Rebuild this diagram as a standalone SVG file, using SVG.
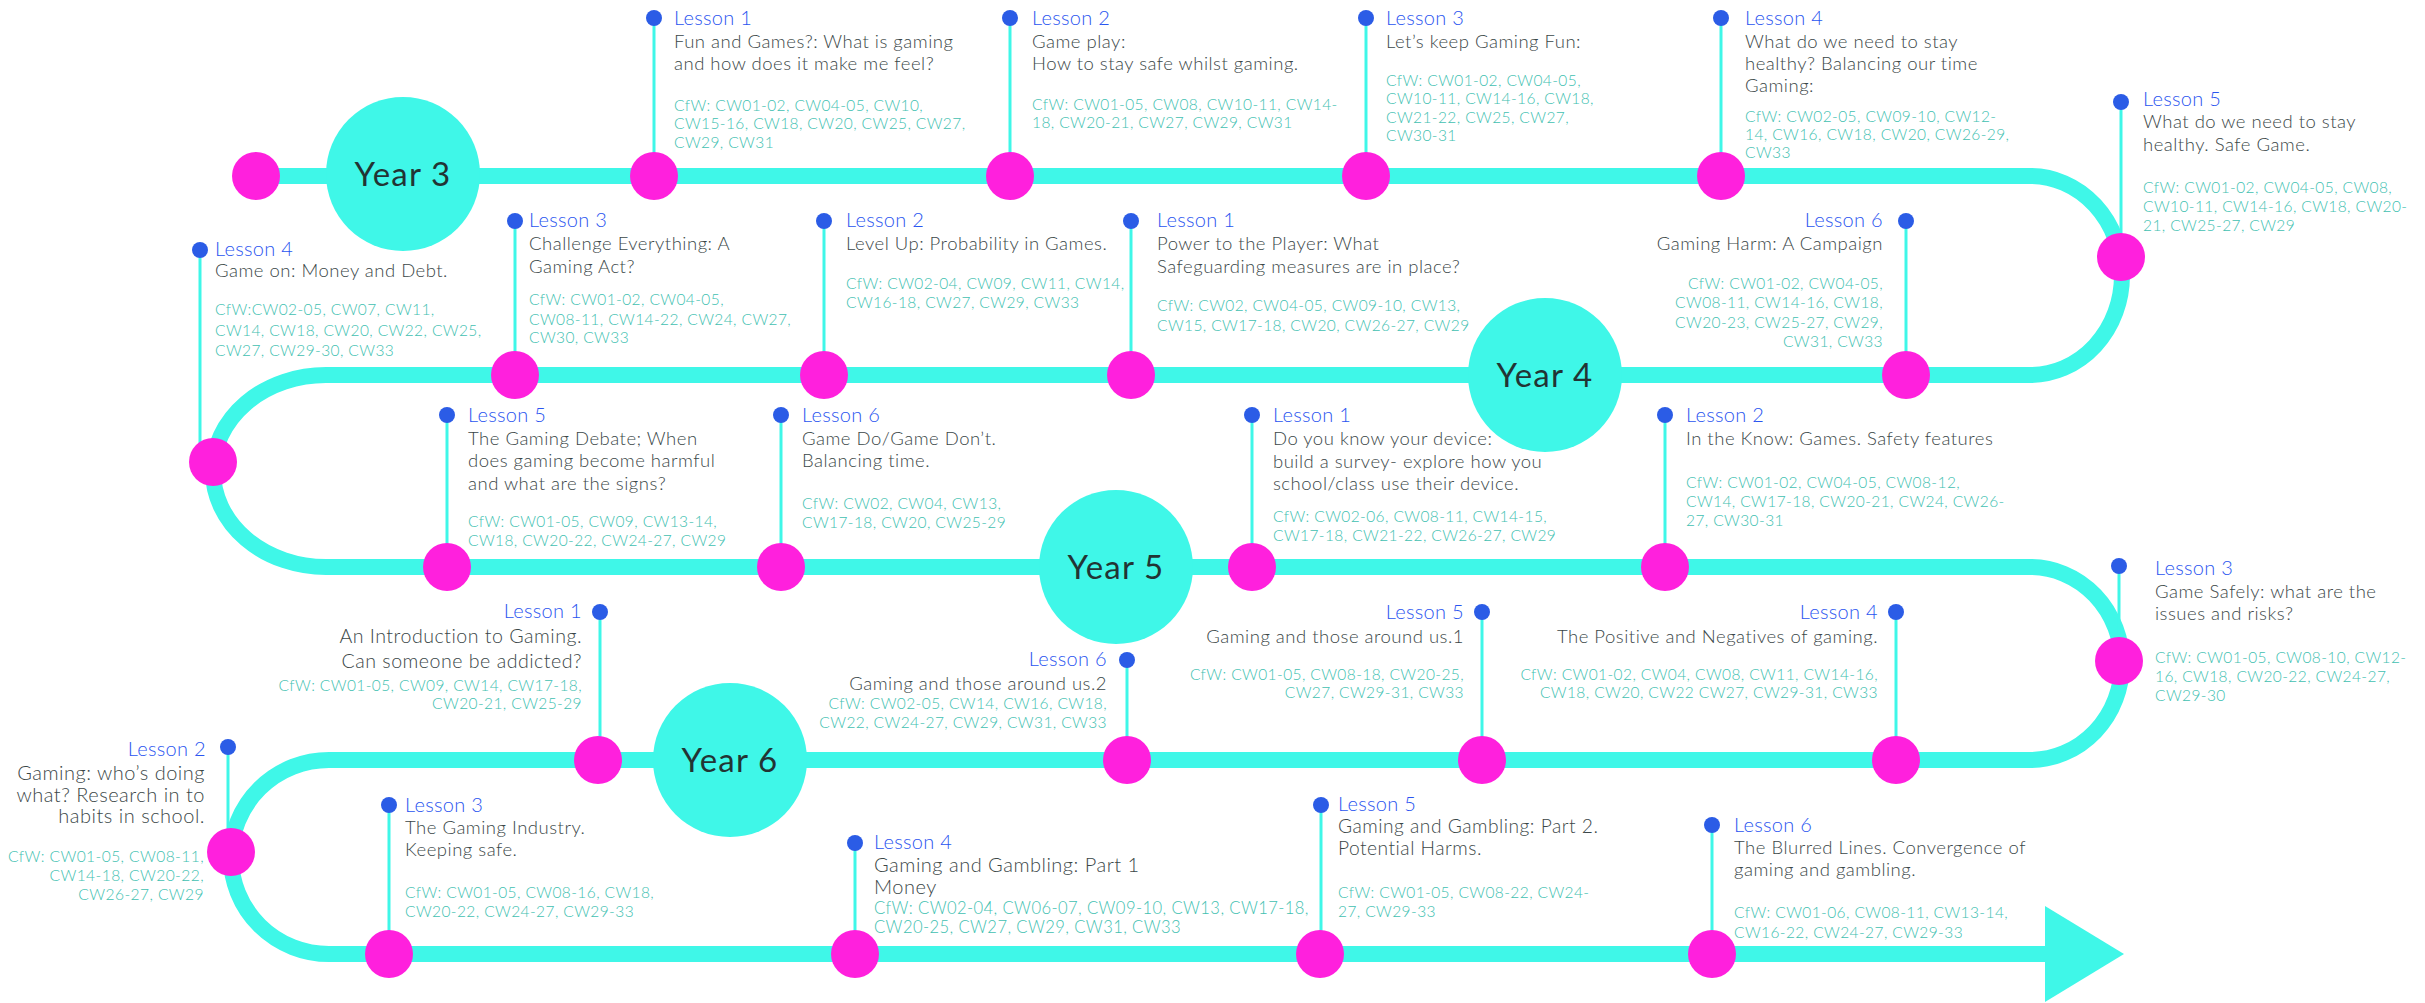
<svg xmlns="http://www.w3.org/2000/svg" width="2425" height="1003" viewBox="0 0 2425 1003">
<style>
  text { font-family: Lato, "Liberation Sans", sans-serif; font-weight: 300; }
  .lbl { font-size: 20px; fill: #2a55f0; letter-spacing: 0.3px; }
  .ttl { font-size: 18.5px; fill: #3b4748; letter-spacing: 0.5px; }
  .cfw { font-size: 15.5px; fill: #42bfb1; letter-spacing: 0.4px; }
  .big .ttl { font-size: 20px; }
  .big .cfw { font-size: 16.6px; }
  .yr { font-size: 33px; fill: #223434; font-weight: 400; letter-spacing: 1.2px; text-anchor: middle; }
  .end { text-anchor: end; }
  .track { fill: none; stroke: #3ff7e8; stroke-width: 16; }
  .stem { stroke: #3ff7e8; stroke-width: 3; }
  .pin { fill: #2b5ce6; }
  .stop { fill: #ff20dd; }
  .year { fill: #3ff7e8; }
</style>

<!-- the winding road -->
<g id="connectors">
  <path class="track" d="M256,176 H2030 A92,99.5 0 0 1 2030,375 H326 A113,96 0 0 0 326,567 H2030 A92,96.5 0 0 1 2030,760 H329 A98,97 0 0 0 329,954 H2046"/>
  <polygon fill="#3ff7e8" points="2045,906 2124,954 2045,1002"/>
</g>

<!-- stems: blue pin at the top, magenta stop on the road -->
<g id="stems">
  <line class="stem" x1="654" y1="18" x2="654" y2="176"/>
  <line class="stem" x1="1010" y1="18" x2="1010" y2="176"/>
  <line class="stem" x1="1366" y1="18" x2="1366" y2="176"/>
  <line class="stem" x1="1721" y1="18" x2="1721" y2="176"/>
  <line class="stem" x1="2121" y1="102" x2="2121" y2="257"/>
  <line class="stem" x1="200" y1="250" x2="200" y2="455"/>
  <line class="stem" x1="1906" y1="221" x2="1906" y2="375"/>
  <line class="stem" x1="1131" y1="221" x2="1131" y2="375"/>
  <line class="stem" x1="824" y1="221" x2="824" y2="375"/>
  <line class="stem" x1="515" y1="221" x2="515" y2="375"/>
  <line class="stem" x1="447" y1="415" x2="447" y2="567"/>
  <line class="stem" x1="781" y1="415" x2="781" y2="567"/>
  <line class="stem" x1="1252" y1="415" x2="1252" y2="567"/>
  <line class="stem" x1="1665" y1="415" x2="1665" y2="567"/>
  <line class="stem" x1="2119" y1="566" x2="2119" y2="661"/>
  <line class="stem" x1="1482" y1="612" x2="1482" y2="760"/>
  <line class="stem" x1="1896" y1="612" x2="1896" y2="760"/>
  <line class="stem" x1="1127" y1="660" x2="1127" y2="760"/>
  <line class="stem" x1="600" y1="612" x2="600" y2="760"/>
  <line class="stem" x1="228" y1="747" x2="228" y2="852"/>
  <line class="stem" x1="389" y1="805" x2="389" y2="954"/>
  <line class="stem" x1="855" y1="843" x2="855" y2="954"/>
  <line class="stem" x1="1321" y1="805" x2="1321" y2="954"/>
  <line class="stem" x1="1712" y1="825" x2="1712" y2="954"/>
</g>

<g id="start"><circle class="stop" cx="256" cy="176" r="24"/></g>

<!-- Year 3 -->
<g id="year3"><circle class="year" cx="403" cy="174" r="77"/><text class="yr" x="403" y="186">Year 3</text></g>

<g id="y3-lesson1">
  <circle class="stop" cx="654" cy="176" r="24"/><circle class="pin" cx="654" cy="18" r="8"/>
  <text class="lbl" x="674" y="25">Lesson 1</text>
  <text class="ttl" x="674" y="48">Fun and Games?: What is gaming</text>
  <text class="ttl" x="674" y="70">and how does it make me feel?</text>
  <text class="cfw" x="674" y="111">CfW: CW01-02, CW04-05, CW10,</text>
  <text class="cfw" x="674" y="129">CW15-16, CW18, CW20, CW25, CW27,</text>
  <text class="cfw" x="674" y="148">CW29, CW31</text>
</g>
<g id="y3-lesson2">
  <circle class="stop" cx="1010" cy="176" r="24"/><circle class="pin" cx="1010" cy="18" r="8"/>
  <text class="lbl" x="1032" y="25">Lesson 2</text>
  <text class="ttl" x="1032" y="48">Game play:</text>
  <text class="ttl" x="1032" y="70">How to stay safe whilst gaming.</text>
  <text class="cfw" x="1032" y="110">CfW: CW01-05, CW08, CW10-11, CW14-</text>
  <text class="cfw" x="1032" y="128">18, CW20-21, CW27, CW29, CW31</text>
</g>
<g id="y3-lesson3">
  <circle class="stop" cx="1366" cy="176" r="24"/><circle class="pin" cx="1366" cy="18" r="8"/>
  <text class="lbl" x="1386" y="25">Lesson 3</text>
  <text class="ttl" x="1386" y="48">Let’s keep Gaming Fun:</text>
  <text class="cfw" x="1386" y="86">CfW: CW01-02, CW04-05,</text>
  <text class="cfw" x="1386" y="104">CW10-11, CW14-16, CW18,</text>
  <text class="cfw" x="1386" y="123">CW21-22, CW25, CW27,</text>
  <text class="cfw" x="1386" y="141">CW30-31</text>
</g>
<g id="y3-lesson4">
  <circle class="stop" cx="1721" cy="176" r="24"/><circle class="pin" cx="1721" cy="18" r="8"/>
  <text class="lbl" x="1745" y="25">Lesson 4</text>
  <text class="ttl" x="1745" y="48">What do we need to stay</text>
  <text class="ttl" x="1745" y="70">healthy? Balancing our time</text>
  <text class="ttl" x="1745" y="92">Gaming:</text>
  <text class="cfw" x="1745" y="122">CfW: CW02-05, CW09-10, CW12-</text>
  <text class="cfw" x="1745" y="140">14, CW16, CW18, CW20, CW26-29,</text>
  <text class="cfw" x="1745" y="158">CW33</text>
</g>
<g id="y3-lesson5">
  <circle class="stop" cx="2121" cy="257" r="24"/><circle class="pin" cx="2121" cy="102" r="8"/>
  <text class="lbl" x="2143" y="106">Lesson 5</text>
  <text class="ttl" x="2143" y="128">What do we need to stay</text>
  <text class="ttl" x="2143" y="151">healthy. Safe Game.</text>
  <text class="cfw" x="2143" y="193">CfW: CW01-02, CW04-05, CW08,</text>
  <text class="cfw" x="2143" y="212">CW10-11, CW14-16, CW18, CW20-</text>
  <text class="cfw" x="2143" y="231">21, CW25-27, CW29</text>
</g>
<g id="y3-lesson4-money">
  <circle class="stop" cx="213" cy="462" r="24"/><circle class="pin" cx="200" cy="250" r="8"/>
  <text class="lbl" x="215" y="256">Lesson 4</text>
  <text class="ttl" x="215" y="277">Game on: Money and Debt.</text>
  <text class="cfw" x="215" y="315">CfW:CW02-05, CW07, CW11,</text>
  <text class="cfw" x="215" y="336">CW14, CW18, CW20, CW22, CW25,</text>
  <text class="cfw" x="215" y="356">CW27, CW29-30, CW33</text>
</g>

<!-- Year 4 -->
<g id="year4"><circle class="year" cx="1545" cy="375" r="77"/><text class="yr" x="1545" y="387">Year 4</text></g>

<g id="y4-lesson6">
  <circle class="stop" cx="1906" cy="375" r="24"/><circle class="pin" cx="1906" cy="221" r="8"/>
  <text class="lbl end" x="1883" y="227">Lesson 6</text>
  <text class="ttl end" x="1883" y="250">Gaming Harm: A Campaign</text>
  <text class="cfw end" x="1883" y="289">CfW: CW01-02, CW04-05,</text>
  <text class="cfw end" x="1883" y="308">CW08-11, CW14-16, CW18,</text>
  <text class="cfw end" x="1883" y="328">CW20-23, CW25-27, CW29,</text>
  <text class="cfw end" x="1883" y="347">CW31, CW33</text>
</g>
<g id="y4-lesson1">
  <circle class="stop" cx="1131" cy="375" r="24"/><circle class="pin" cx="1131" cy="221" r="8"/>
  <text class="lbl" x="1157" y="227">Lesson 1</text>
  <text class="ttl" x="1157" y="250">Power to the Player: What</text>
  <text class="ttl" x="1157" y="273">Safeguarding measures are in place?</text>
  <text class="cfw" x="1157" y="311">CfW: CW02, CW04-05, CW09-10, CW13,</text>
  <text class="cfw" x="1157" y="331">CW15, CW17-18, CW20, CW26-27, CW29</text>
</g>
<g id="y4-lesson2">
  <circle class="stop" cx="824" cy="375" r="24"/><circle class="pin" cx="824" cy="221" r="8"/>
  <text class="lbl" x="846" y="227">Lesson 2</text>
  <text class="ttl" x="846" y="250">Level Up: Probability in Games.</text>
  <text class="cfw" x="846" y="289">CfW: CW02-04, CW09, CW11, CW14,</text>
  <text class="cfw" x="846" y="308">CW16-18, CW27, CW29, CW33</text>
</g>
<g id="y4-lesson3">
  <circle class="stop" cx="515" cy="375" r="24"/><circle class="pin" cx="515" cy="221" r="8"/>
  <text class="lbl" x="529" y="227">Lesson 3</text>
  <text class="ttl" x="529" y="250">Challenge Everything: A</text>
  <text class="ttl" x="529" y="273">Gaming Act?</text>
  <text class="cfw" x="529" y="305">CfW: CW01-02, CW04-05,</text>
  <text class="cfw" x="529" y="325">CW08-11, CW14-22, CW24, CW27,</text>
  <text class="cfw" x="529" y="343">CW30, CW33</text>
</g>

<!-- Year 5 -->
<g id="year5"><circle class="year" cx="1116" cy="567" r="77"/><text class="yr" x="1116" y="579">Year 5</text></g>

<g id="y5-lesson5">
  <circle class="stop" cx="447" cy="567" r="24"/><circle class="pin" cx="447" cy="415" r="8"/>
  <text class="lbl" x="468" y="422">Lesson 5</text>
  <text class="ttl" x="468" y="445">The Gaming Debate; When</text>
  <text class="ttl" x="468" y="467">does gaming become harmful</text>
  <text class="ttl" x="468" y="490">and what are the signs?</text>
  <text class="cfw" x="468" y="527">CfW: CW01-05, CW09, CW13-14,</text>
  <text class="cfw" x="468" y="546">CW18, CW20-22, CW24-27, CW29</text>
</g>
<g id="y5-lesson6">
  <circle class="stop" cx="781" cy="567" r="24"/><circle class="pin" cx="781" cy="415" r="8"/>
  <text class="lbl" x="802" y="422">Lesson 6</text>
  <text class="ttl" x="802" y="445">Game Do/Game Don’t.</text>
  <text class="ttl" x="802" y="467">Balancing time.</text>
  <text class="cfw" x="802" y="509">CfW: CW02, CW04, CW13,</text>
  <text class="cfw" x="802" y="528">CW17-18, CW20, CW25-29</text>
</g>
<g id="y5-lesson1">
  <circle class="stop" cx="1252" cy="567" r="24"/><circle class="pin" cx="1252" cy="415" r="8"/>
  <text class="lbl" x="1273" y="422">Lesson 1</text>
  <text class="ttl" x="1273" y="445">Do you know your device:</text>
  <text class="ttl" x="1273" y="468">build a survey- explore how you</text>
  <text class="ttl" x="1273" y="490">school/class use their device.</text>
  <text class="cfw" x="1273" y="522">CfW: CW02-06, CW08-11, CW14-15,</text>
  <text class="cfw" x="1273" y="541">CW17-18, CW21-22, CW26-27, CW29</text>
</g>
<g id="y5-lesson2">
  <circle class="stop" cx="1665" cy="567" r="24"/><circle class="pin" cx="1665" cy="415" r="8"/>
  <text class="lbl" x="1686" y="422">Lesson 2</text>
  <text class="ttl" x="1686" y="445">In the Know: Games. Safety features</text>
  <text class="cfw" x="1686" y="488">CfW: CW01-02, CW04-05, CW08-12,</text>
  <text class="cfw" x="1686" y="507">CW14, CW17-18, CW20-21, CW24, CW26-</text>
  <text class="cfw" x="1686" y="526">27, CW30-31</text>
</g>
<g id="y5-lesson3">
  <circle class="stop" cx="2119" cy="661" r="24"/><circle class="pin" cx="2119" cy="566" r="8"/>
  <text class="lbl" x="2155" y="575">Lesson 3</text>
  <text class="ttl" x="2155" y="598">Game Safely: what are the</text>
  <text class="ttl" x="2155" y="620">issues and risks?</text>
  <text class="cfw" x="2155" y="663">CfW: CW01-05, CW08-10, CW12-</text>
  <text class="cfw" x="2155" y="682">16, CW18, CW20-22, CW24-27,</text>
  <text class="cfw" x="2155" y="701">CW29-30</text>
</g>

<!-- Year 6 -->
<g id="year6"><circle class="year" cx="730" cy="760" r="77"/><text class="yr" x="730" y="772">Year 6</text></g>

<g id="y6-lesson4">
  <circle class="stop" cx="1896" cy="760" r="24"/><circle class="pin" cx="1896" cy="612" r="8"/>
  <text class="lbl end" x="1878" y="619">Lesson 4</text>
  <text class="ttl end" x="1878" y="643">The Positive and Negatives of gaming.</text>
  <text class="cfw end" x="1878" y="680">CfW: CW01-02, CW04, CW08, CW11, CW14-16,</text>
  <text class="cfw end" x="1878" y="698">CW18, CW20, CW22 CW27, CW29-31, CW33</text>
</g>
<g id="y6-lesson5">
  <circle class="stop" cx="1482" cy="760" r="24"/><circle class="pin" cx="1482" cy="612" r="8"/>
  <text class="lbl end" x="1464" y="619">Lesson 5</text>
  <text class="ttl end" x="1464" y="643">Gaming and those around us.1</text>
  <text class="cfw end" x="1464" y="680">CfW: CW01-05, CW08-18, CW20-25,</text>
  <text class="cfw end" x="1464" y="698">CW27, CW29-31, CW33</text>
</g>
<g id="y6-lesson6">
  <circle class="stop" cx="1127" cy="760" r="24"/><circle class="pin" cx="1127" cy="660" r="8"/>
  <text class="lbl end" x="1107" y="666">Lesson 6</text>
  <text class="ttl end" x="1107" y="690">Gaming and those around us.2</text>
  <text class="cfw end" x="1107" y="709">CfW: CW02-05, CW14, CW16, CW18,</text>
  <text class="cfw end" x="1107" y="728">CW22, CW24-27, CW29, CW31, CW33</text>
</g>
<g id="y6-lesson1" class="big">
  <circle class="stop" cx="598" cy="760" r="24"/><circle class="pin" cx="600" cy="612" r="8"/>
  <text class="lbl end" x="582" y="618">Lesson 1</text>
  <text class="ttl end" x="582" y="643" style="font-size:19.6px">An Introduction to Gaming.</text>
  <text class="ttl end" x="582" y="668" style="font-size:19.6px">Can someone be addicted?</text>
  <text class="cfw end" x="582" y="691" style="font-size:15.5px">CfW: CW01-05, CW09, CW14, CW17-18,</text>
  <text class="cfw end" x="582" y="709" style="font-size:15.5px">CW20-21, CW25-29</text>
</g>
<g id="y6-lesson2" class="big">
  <circle class="stop" cx="231" cy="852" r="24"/><circle class="pin" cx="228" cy="747" r="8"/>
  <text class="lbl end" x="206" y="756">Lesson 2</text>
  <text class="ttl end" x="205" y="780">Gaming: who’s doing</text>
  <text class="ttl end" x="205" y="802">what? Research in to</text>
  <text class="ttl end" x="205" y="823">habits in school.</text>
  <text class="cfw end" x="204" y="862" style="font-size:15.6px">CfW: CW01-05, CW08-11,</text>
  <text class="cfw end" x="204" y="881" style="font-size:15.6px">CW14-18, CW20-22,</text>
  <text class="cfw end" x="204" y="900" style="font-size:15.6px">CW26-27, CW29</text>
</g>
<g id="y6-lesson3">
  <circle class="stop" cx="389" cy="954" r="24"/><circle class="pin" cx="389" cy="805" r="8"/>
  <text class="lbl" x="405" y="812">Lesson 3</text>
  <text class="ttl" x="405" y="834">The Gaming Industry.</text>
  <text class="ttl" x="405" y="856">Keeping safe.</text>
  <text class="cfw" x="405" y="898">CfW: CW01-05, CW08-16, CW18,</text>
  <text class="cfw" x="405" y="917">CW20-22, CW24-27, CW29-33</text>
</g>
<g id="y6-lesson4-gambling" class="big">
  <circle class="stop" cx="855" cy="954" r="24"/><circle class="pin" cx="855" cy="843" r="8"/>
  <text class="lbl" x="874" y="849">Lesson 4</text>
  <text class="ttl" x="874" y="872">Gaming and Gambling: Part 1</text>
  <text class="ttl" x="874" y="894">Money</text>
  <text class="cfw" x="874" y="914">CfW: CW02-04, CW06-07, CW09-10, CW13, CW17-18,</text>
  <text class="cfw" x="874" y="933">CW20-25, CW27, CW29, CW31, CW33</text>
</g>
<g id="y6-lesson5-gambling">
  <circle class="stop" cx="1320" cy="954" r="24"/><circle class="pin" cx="1321" cy="805" r="8"/>
  <text class="lbl" x="1338" y="811">Lesson 5</text>
  <text class="ttl" x="1338" y="833" style="font-size:19.2px">Gaming and Gambling: Part 2.</text>
  <text class="ttl" x="1338" y="855" style="font-size:19.2px">Potential Harms.</text>
  <text class="cfw" x="1338" y="898">CfW: CW01-05, CW08-22, CW24-</text>
  <text class="cfw" x="1338" y="917">27, CW29-33</text>
</g>
<g id="y6-lesson6-blurred">
  <circle class="stop" cx="1712" cy="954" r="24"/><circle class="pin" cx="1712" cy="825" r="8"/>
  <text class="lbl" x="1734" y="832">Lesson 6</text>
  <text class="ttl" x="1734" y="854">The Blurred Lines. Convergence of</text>
  <text class="ttl" x="1734" y="876">gaming and gambling.</text>
  <text class="cfw" x="1734" y="918">CfW: CW01-06, CW08-11, CW13-14,</text>
  <text class="cfw" x="1734" y="938">CW16-22, CW24-27, CW29-33</text>
</g>
</svg>
